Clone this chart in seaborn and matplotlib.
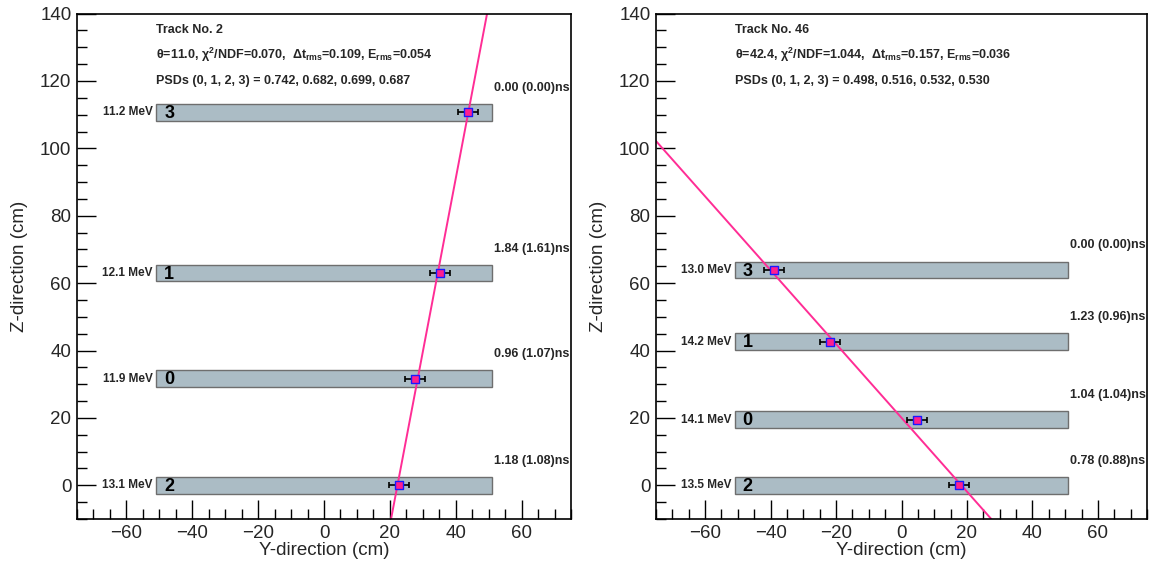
import numpy as np
import pandas as pd
import matplotlib
matplotlib.use("Agg")
import matplotlib.pyplot as plt
from matplotlib.ticker import MultipleLocator
import seaborn as sns

# ---- track 2 ----
bars_a = [3, 1, 0, 2]
z_a = [110.7, 63.0, 31.7, 0.0]
y_a = [43.7, 35.2, 27.7, 22.8]
energy_a = [11.2, 12.1, 11.9, 13.1]
time_a = ["0.00 (0.00)", "1.84 (1.61)", "0.96 (1.07)", "1.18 (1.08)"]
theta_a = 11.0
y0_a = 22.3
stats_a = ["0.070", "0.109", "0.054"]
psd_a = ["0.742", "0.682", "0.699", "0.687"]

# ---- track 46 ----
bars_b = [3, 1, 0, 2]
z_b = [63.9, 42.6, 19.5, 0.0]
y_b = [-38.9, -21.8, 4.8, 17.6]
energy_b = [13.0, 14.2, 14.1, 13.5]
time_b = ["0.00 (0.00)", "1.23 (0.96)", "1.04 (1.04)", "0.78 (0.88)"]
theta_b = -42.4
y0_b = 18.3
stats_b = ["1.044", "0.157", "0.036"]
psd_b = ["0.498", "0.516", "0.532", "0.530"]

y_err = 3.0
bar_half = 51.0
bar_thick = 5.0

sns.set_theme(style="ticks")
plt.rcParams["font.family"] = ["Liberation Sans", "DejaVu Sans"]
plt.rcParams["mathtext.fontset"] = "custom"
plt.rcParams["mathtext.rm"] = "Liberation Sans:bold"
plt.rcParams["mathtext.bf"] = "Liberation Sans:bold"
plt.rcParams["mathtext.it"] = "Liberation Sans:bold"

fig = plt.figure(figsize=(11.58, 5.66), dpi=100)
axes = [fig.add_axes([0.0665, 0.083, 0.4266, 0.893]),
        fig.add_axes([0.5665, 0.083, 0.4240, 0.893])]

line_col = "#ff2d95"
bar_col = "#abbcc5"


def draw(ax, track, bars, zs, ys, energies, times, theta, y0, stats, psds):
    # scintillator bars
    ax.barh(zs, 2 * bar_half, left=-bar_half, height=bar_thick,
            color=bar_col, edgecolor="#6e6e6e", linewidth=1.0, zorder=1)
    for b, z, e, t in zip(bars, zs, energies, times):
        ax.text(-bar_half - 1.0, z, f"{e:.1f} MeV", ha="right", va="center",
                fontsize=8.5, fontweight="bold", zorder=3)
        ax.text(-bar_half + 2.5, z - 0.3, str(b), ha="left", va="center",
                fontsize=13, fontweight="bold", color="black", zorder=3)
        ax.text(bar_half + 0.5, z + 5.5, f"{t}ns", ha="left", va="bottom",
                fontsize=9, fontweight="bold", zorder=3)

    # fitted track
    zz = np.array([-12.0, 142.0])
    yy = y0 + np.tan(np.radians(theta)) * zz
    sns.lineplot(x=yy, y=zz, ax=ax, color=line_col, linewidth=1.4,
                 sort=False, zorder=2)

    # hit positions
    ax.errorbar(ys, zs, xerr=y_err, fmt="none", ecolor="black",
                elinewidth=1.2, capsize=2.5, capthick=1.2, zorder=4)
    df = pd.DataFrame({"y": ys, "z": zs})
    sns.scatterplot(data=df, x="y", y="z", ax=ax, marker="s", s=34,
                    color="#ff1f8f", edgecolor="#1a1aff", linewidth=1.0,
                    zorder=5, legend=False)

    # header
    ax.text(-51, 135, f"Track No. {track}", fontsize=9, fontweight="bold",
            va="center")
    ax.text(-51, 127.8,
            f"θ={abs(theta):.1f}, χ$^{{2}}$/NDF={stats[0]},  "
            f"Δt$_{{\\rm rms}}$={stats[1]}, E$_{{\\rm rms}}$={stats[2]}",
            fontsize=9, fontweight="bold", va="center")
    ax.text(-51, 120, "PSDs (0, 1, 2, 3) = " + ", ".join(psds),
            fontsize=9, fontweight="bold", va="center")

    ax.set_xlim(-75, 75)
    ax.set_ylim(-10, 140)
    ax.xaxis.set_minor_locator(MultipleLocator(5))
    ax.yaxis.set_major_locator(MultipleLocator(20))
    ax.yaxis.set_minor_locator(MultipleLocator(5))
    ax.set_xticks([-60, -40, -20, 0, 20, 40, 60])
    ax.set_xticklabels(["\u221260", "\u221240", "\u221220", "0", "20", "40", "60"])
    ax.tick_params(which="both", direction="in", top=False, right=False,
                   labelsize=13.5, color="black", width=1.0)
    ax.tick_params(which="major", length=14, pad=4)
    ax.tick_params(which="minor", length=7)
    ax.set_xlabel("Y-direction (cm)", fontsize=13.5, labelpad=0)
    ax.set_ylabel("Z-direction (cm)", fontsize=13.5, labelpad=9)
    for s in ax.spines.values():
        s.set_visible(True)
        s.set_linewidth(1.2)
        s.set_color("black")


draw(axes[0], 2, bars_a, z_a, y_a, energy_a, time_a, theta_a, y0_a,
     stats_a, psd_a)
draw(axes[1], 46, bars_b, z_b, y_b, energy_b, time_b, theta_b, y0_b,
     stats_b, psd_b)

fig.savefig("out.png", dpi=100)
